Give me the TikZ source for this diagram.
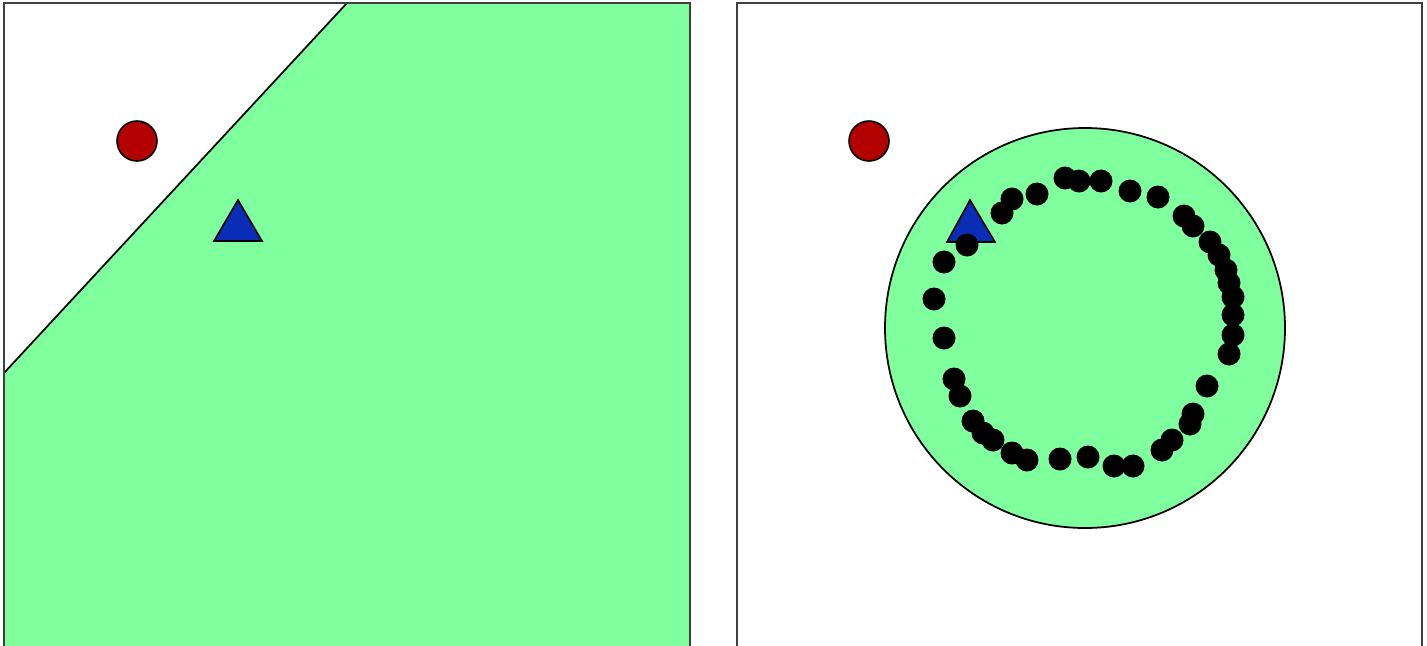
\documentclass[tikz,border=0pt]{standalone}
\usepackage{xcolor}
\usepackage{tikz}
\usetikzlibrary{calc}
\definecolor{RegionGreen}{HTML}{80FF9E}
\definecolor{MarkRed}{HTML}{B30000}
\definecolor{MarkBlue}{HTML}{0A2DB8}
\definecolor{FrameGrey}{HTML}{404040}
\tikzset{
  panel/.style={draw=FrameGrey,line width=0.7pt},
  region/.style={fill=RegionGreen,draw=black,line width=0.5pt},
  redpt/.style={fill=MarkRed,draw=black,line width=0.45pt},
  bluept/.style={fill=MarkBlue,draw=black,line width=0.45pt},
  ringpt/.style={fill=black}
}

\begin{document}
\begin{tikzpicture}[x=0.01cm,y=-0.01cm]
  \clip (0,0) rectangle (1427,645);
  \fill[white] (0,0) rectangle (1427,645);
  % left panel: half-plane region
  \fill[RegionGreen] (347,3) -- (690,3) -- (690,690) -- (4,690) -- (4,373) -- cycle;
  \draw[black,line width=0.5pt] (4,373) -- (347,3);
  \draw[panel] (4,3) rectangle (690,690);
  \draw[redpt] (137,141) circle (20);
  \draw[bluept] (238,200) -- (262,241) -- (214,241) -- cycle;
  % right panel: disc region with ring of samples
  \draw[panel] (737,3) rectangle (1422,690);
  \draw[region] (1085,328) circle (200);
  \draw[redpt] (869,141) circle (20);
  \draw[bluept] (970,200) -- (995,242) -- (947,242) -- cycle;
  \foreach \px/\py in {1065/178,1079/181,1101/181,1130/191,1158/197,1184/216,
      1193/226,1210/242,1219/255,1226/270,1229/283,1233/297,1233/315,1233/335,
      1229/354,1207/386,1193/414,1190/424,1172/440,1162/450,1133/466,1114/466,
      1088/457,1060/459,1027/460,1012/453,993/440,983/433,973/421,960/396,
      954/379,944/338,934/299,944/262,967/245,1002/213,1012/199,1037/194}
    \fill[ringpt] (\px,\py) circle (11.5);
\end{tikzpicture}
\end{document}
